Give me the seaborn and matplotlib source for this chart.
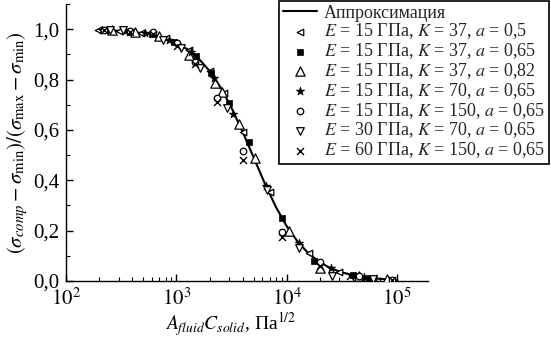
import numpy as np
import pandas as pd
import matplotlib
matplotlib.use('Agg')
import matplotlib.pyplot as plt
import matplotlib.ticker as mticker
import seaborn as sns

# Аппроксимирующая кривая
fit_x = [200, 251, 316, 398, 501, 631, 794, 1000, 1259, 1585, 1995, 2512, 3162,
         3981, 5012, 6310, 7943, 10000, 12589, 15849, 19953, 25119, 31623,
         39811, 50119, 63096, 79433, 100000]
fit_y = [0.997, 0.995, 0.993, 0.989, 0.984, 0.976, 0.964, 0.946, 0.920, 0.884,
         0.834, 0.769, 0.687, 0.592, 0.490, 0.388, 0.295, 0.217, 0.155, 0.108,
         0.074, 0.050, 0.034, 0.023, 0.015, 0.010, 0.007, 0.004]

# Серии данных
s1_x = [195, 300, 480, 800, 1300, 2000, 2700, 4000, 7050, 15800, 30000, 60000]
s1_y = [0.997, 0.993, 0.985, 0.963, 0.917, 0.833, 0.747, 0.590, 0.355, 0.110, 0.037, 0.011]

s2_x = [230, 380, 600, 950, 1500, 2050, 3000, 4550, 9000, 17800, 40000, 55000]
s2_y = [0.996, 0.990, 0.980, 0.950, 0.894, 0.825, 0.707, 0.553, 0.250, 0.080, 0.022, 0.013]

s3_x = [260, 420, 700, 1290, 2240, 2580, 3700, 5150, 10500, 19800, 45000, 81000]
s3_y = [0.995, 0.988, 0.971, 0.897, 0.785, 0.750, 0.624, 0.490, 0.200, 0.052, 0.018, 0.006]

s4_x = [210, 340, 520, 850, 1350, 2200, 3250, 6500, 12800, 25000, 50000]
s4_y = [0.997, 0.992, 0.983, 0.959, 0.911, 0.808, 0.665, 0.376, 0.150, 0.050, 0.015]

s5_x = [220, 380, 610, 1020, 1480, 2340, 4000, 9100, 20000, 45000, 90000]
s5_y = [0.997, 0.993, 0.990, 0.944, 0.870, 0.726, 0.516, 0.195, 0.074, 0.018, 0.005]

s6_x = [250, 330, 760, 1100, 1650, 2870, 6600, 13000, 25400, 60000]
s6_y = [0.996, 0.995, 0.956, 0.925, 0.845, 0.686, 0.360, 0.130, 0.020, 0.008]

s7_x = [220, 380, 610, 1020, 1480, 2340, 4000, 9100, 20000, 37500, 90000]
s7_y = [0.995, 0.990, 0.980, 0.935, 0.860, 0.710, 0.480, 0.175, 0.060, 0.020, 0.004]

labels = [r'$E$ = 15 ГПа, $K$ = 37, $a$ = 0,5',
          r'$E$ = 15 ГПа, $K$ = 37, $a$ = 0,65',
          r'$E$ = 15 ГПа, $K$ = 37, $a$ = 0,82',
          r'$E$ = 15 ГПа, $K$ = 70, $a$ = 0,65',
          r'$E$ = 15 ГПа, $K$ = 150, $a$ = 0,65',
          r'$E$ = 30 ГПа, $K$ = 70, $a$ = 0,65',
          r'$E$ = 60 ГПа, $K$ = 150, $a$ = 0,65']

sns.set_theme(style='ticks')
plt.rcParams['font.family'] = ['Liberation Serif', 'DejaVu Serif']
plt.rcParams['mathtext.fontset'] = 'stix'

fig = plt.figure(figsize=(5.51, 3.42), dpi=100)
ax = fig.add_axes([66 / 551, 1 - 281 / 342, (428 - 66) / 551, 277 / 342])

sns.lineplot(x=fit_x, y=fit_y, ax=ax, color='black', linewidth=1.5,
             label='Аппроксимация')

series = [(s1_x, s1_y, '<', 22, True),
          (s2_x, s2_y, 's', 14, False),
          (s3_x, s3_y, '^', 45, True),
          (s4_x, s4_y, '*', 40, False),
          (s5_x, s5_y, 'o', 22, True),
          (s6_x, s6_y, 'v', 30, True),
          (s7_x, s7_y, 'x', 25, False)]

for (xs, ys, m, sz, hollow), lab in zip(series, labels):
    if m == 'x':
        sns.scatterplot(x=xs, y=ys, ax=ax, marker=m, s=sz, color='black',
                        linewidth=1.0, label=lab, zorder=3)
    elif hollow:
        sns.scatterplot(x=xs, y=ys, ax=ax, marker=m, s=sz, facecolor='white',
                        edgecolor='black', linewidth=0.9, label=lab, zorder=3)
    else:
        sns.scatterplot(x=xs, y=ys, ax=ax, marker=m, s=sz, color='black',
                        edgecolor='black', linewidth=0.5, label=lab, zorder=3)

ax.set_xscale('log')
ax.set_xlim(100, 1.9e5)
ax.set_ylim(0, 1.1)
ax.yaxis.set_major_locator(mticker.FixedLocator([0, 0.2, 0.4, 0.6, 0.8, 1.0]))
ax.yaxis.set_minor_locator(mticker.MultipleLocator(0.1))
ax.yaxis.set_major_formatter(mticker.FuncFormatter(lambda v, p: f'{v:.1f}'.replace('.', ',')))
ax.xaxis.set_major_locator(mticker.FixedLocator([1e2, 1e3, 1e4, 1e5]))
ax.xaxis.set_major_formatter(mticker.FuncFormatter(lambda v, p: r'$10^{%d}$' % round(np.log10(v))))
ax.xaxis.set_minor_locator(mticker.LogLocator(base=10, subs=np.arange(2, 10), numticks=20))
ax.xaxis.set_minor_formatter(mticker.NullFormatter())

for side in ['top', 'right']:
    ax.spines[side].set_visible(False)
for side in ['left', 'bottom']:
    ax.spines[side].set_color('black')
    ax.spines[side].set_linewidth(1.0)
ax.tick_params(which='major', direction='in', length=5, width=1, colors='black',
               labelsize=15, pad=5)
ax.tick_params(which='minor', direction='in', length=3, width=0.8, colors='black')

ax.set_xlabel(r'$A_{fluid}C_{solid}$, Па$^{1/2}$', fontsize=14, color='black', labelpad=2)
ax.xaxis.set_label_coords(0.455, -0.105)
ax.set_ylabel(r'$(\sigma_{comp} - \sigma_{\rm min})/(\sigma_{\rm max} - \sigma_{\rm min})$',
              fontsize=15, color='black', labelpad=2)

leg = ax.legend(loc='upper right', bbox_to_anchor=(549 / 551, 1 - 1 / 342),
                bbox_transform=fig.transFigure, fontsize=13, frameon=True,
                fancybox=False, edgecolor='black', framealpha=1,
                handlelength=1.9, handletextpad=0.4, labelspacing=0.0,
                borderpad=0.2, borderaxespad=0)
leg.get_frame().set_linewidth(1.2)

fig.savefig('out.png', dpi=100)
